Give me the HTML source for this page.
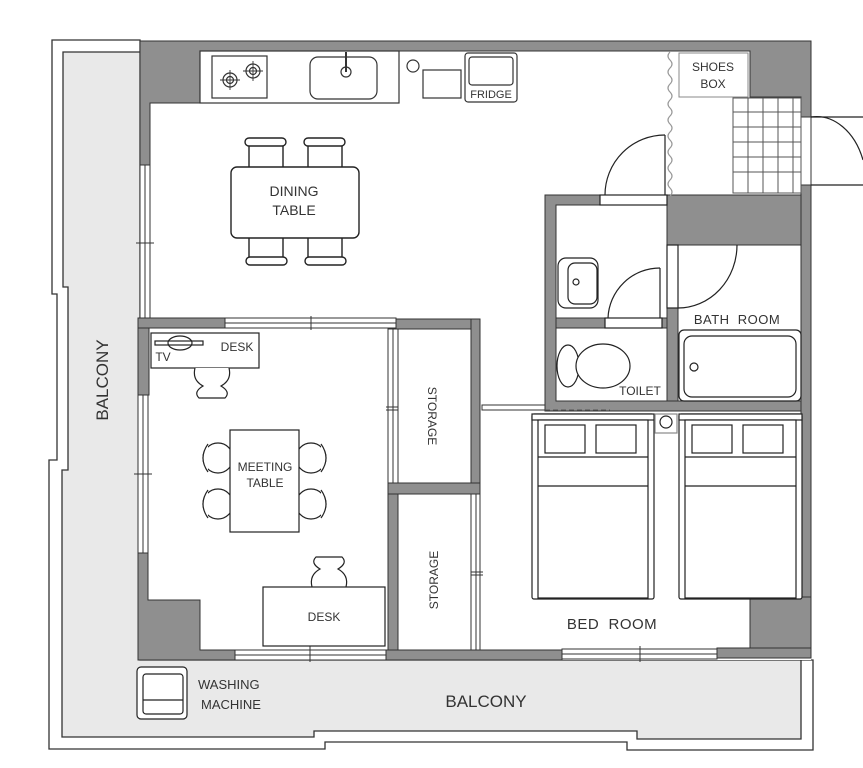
<!DOCTYPE html>
<html><head><meta charset="utf-8"><style>
html,body{margin:0;padding:0;background:#fff;}
svg{display:block}
text{font-family:"Liberation Sans",sans-serif;fill:#333;}
</style></head><body>
<svg width="863" height="768" viewBox="0 0 863 768" xmlns="http://www.w3.org/2000/svg">
<!-- balcony -->
<path d="M52,40 H140 V660 H813 V750 H627 V742 H325 V749 H49 V460 H57 V294 H52 Z" fill="#fff" stroke="#333" stroke-width="1.3"/>
<path d="M63,52 H140 V660 H801 V739 H637 V731 H314 V737 H62 V470 H68 V287 H63 Z" fill="#e9e9e9" stroke="#333" stroke-width="1.3"/>
<!-- building interior -->
<rect x="140" y="41" width="671" height="619" fill="#fff"/>
<g fill="#8f8f8f" stroke="#333" stroke-width="1">
<path d="M140,41 H811 V117 H801 V97 H750 V51 H200 V103 H150 V165 H140 Z"/>
<rect x="801" y="185" width="10" height="415"/>
<path d="M750,597 H811 V658 H750 Z"/>
<rect x="138" y="318" width="87" height="10"/>
<rect x="138" y="328" width="11" height="67"/>
<path d="M138,553 H148 V600 H200 V650 H235 V660 H138 Z"/>
<rect x="396" y="319" width="84" height="10"/>
<rect x="471" y="319" width="9" height="175"/>
<rect x="388" y="483" width="92" height="11"/>
<rect x="388" y="494" width="10" height="166"/>
<rect x="386" y="650" width="176" height="10"/>
<rect x="717" y="648" width="94" height="10"/>
<path d="M545,195 H600 V205 H556 V401 H801 V411 H545 Z"/>
<rect x="667" y="195" width="134" height="50"/>
<rect x="556" y="318" width="49" height="10"/>
<rect x="662" y="318" width="16" height="10"/>
<rect x="667" y="308" width="11" height="93"/>
</g>
<!-- windows -->
<g fill="#fff" stroke="#333" stroke-width="1">
<rect x="140" y="165" width="10" height="153"/>
<line x1="145" y1="165" x2="145" y2="318"/>
<line x1="136" y1="243" x2="154" y2="243"/>
<rect x="138" y="395" width="10" height="158"/>
<line x1="143" y1="395" x2="143" y2="553"/>
<line x1="134" y1="474" x2="152" y2="474"/>
<rect x="225" y="318" width="171" height="10"/>
<line x1="225" y1="323" x2="396" y2="323"/>
<line x1="311" y1="316" x2="311" y2="330"/>
<rect x="235" y="650" width="151" height="10"/>
<line x1="235" y1="655" x2="386" y2="655"/>
<line x1="310" y1="646" x2="310" y2="662"/>
<rect x="562" y="649" width="155" height="10"/>
<line x1="562" y1="654" x2="717" y2="654"/>
<line x1="640" y1="646" x2="640" y2="662"/>
<rect x="801" y="117" width="10" height="68"/>
<rect x="388" y="329" width="10" height="154"/>
<line x1="393" y1="329" x2="393" y2="483"/>
<line x1="386" y1="407" x2="400" y2="407"/><line x1="386" y1="410" x2="400" y2="410"/>
<rect x="471" y="494" width="9" height="156"/>
<line x1="476" y1="494" x2="476" y2="650"/>
<line x1="469" y1="572" x2="483" y2="572"/><line x1="469" y1="575" x2="483" y2="575"/>
<rect x="398" y="329" width="73" height="154"/>
<rect x="398" y="494" width="73" height="156"/>
<rect x="482" y="405" width="63" height="5"/>
</g>
<line x1="545" y1="410" x2="610" y2="410" stroke="#555" stroke-dasharray="5,3"/>
<!-- door openings -->
<g fill="none" stroke="#222" stroke-width="1.2">
<rect x="600" y="195" width="67" height="10" fill="#fff"/>
<line x1="665" y1="135" x2="665" y2="195"/>
<path d="M665,135 A60,60 0 0 0 605,195"/>
<rect x="605" y="318" width="57" height="10" fill="#fff"/>
<line x1="660" y1="268" x2="660" y2="318"/>
<path d="M660,268 A52,52 0 0 0 608,318"/>
<rect x="667" y="245" width="11" height="63" fill="#fff"/>
<path d="M737,245 A59,63 0 0 1 678,308"/>
<line x1="811" y1="117" x2="863" y2="117"/>
<path d="M811,117 A50,68 0 0 1 863,160"/>
<line x1="811" y1="185" x2="863" y2="185"/>
</g>
<path d="M670,52 q-4,4 0,8 q4,4 0,8 q-4,4 0,8 q4,4 0,8 q-4,4 0,8 q4,4 0,8 q-4,4 0,8 q4,4 0,8 q-4,4 0,8 q4,4 0,8 q-4,4 0,8 q4,4 0,8 q-4,4 0,8 q4,4 0,8 q-4,4 0,8 q4,4 0,8 q-4,4 0,8 q4,4 0,8" fill="none" stroke="#999" stroke-width="1.2"/>
<rect x="679" y="53" width="69" height="44" fill="#fff" stroke="#888"/>
<text x="713" y="71" font-size="12" text-anchor="middle">SHOES</text>
<text x="713" y="88" font-size="12" text-anchor="middle">BOX</text>
<g stroke="#555" fill="#fff" stroke-width="1">
<rect x="733" y="98" width="68" height="95"/>
<path d="M748,98V193M763,98V193M778,98V193M793,98V193M733,112H801M733,127H801M733,142H801M733,157H801M733,172H801"/>
</g>
<g fill="#fff" stroke="#333" stroke-width="1.2">
<rect x="200" y="51" width="199" height="52"/>
<rect x="212" y="56" width="55" height="42"/>
<circle cx="230" cy="80" r="7"/><circle cx="230" cy="80" r="3.5"/>
<circle cx="253" cy="71" r="7"/><circle cx="253" cy="71" r="3.5"/>
<path d="M220,80H240M230,70V90M243,71H263M253,61V81" stroke-width="0.9"/>
<rect x="310" y="57" width="67" height="42" rx="8"/>
<circle cx="346" cy="72" r="5"/>
<line x1="346" y1="52" x2="346" y2="72" stroke-width="2"/>
<circle cx="413" cy="66" r="6"/>
<rect x="423" y="70" width="38" height="28"/>
<rect x="465" y="53" width="52" height="49" rx="3"/>
<rect x="469" y="57" width="44" height="28" rx="3"/>
</g>
<text x="491" y="98" font-size="11" text-anchor="middle">FRIDGE</text>
<g fill="#fff" stroke="#222" stroke-width="1.4">
<rect x="249" y="144" width="34" height="24"/>
<rect x="245" y="138" width="41" height="8" rx="4"/>
<rect x="308" y="144" width="34" height="24"/>
<rect x="304" y="138" width="41" height="8" rx="4"/>
<rect x="249" y="237" width="34" height="22"/>
<rect x="246" y="257" width="41" height="8" rx="4"/>
<rect x="308" y="237" width="34" height="22"/>
<rect x="305" y="257" width="41" height="8" rx="4"/>
<rect x="231" y="167" width="128" height="71" rx="6"/>
</g>
<text x="294" y="196" font-size="14" text-anchor="middle">DINING</text>
<text x="294" y="215" font-size="14" text-anchor="middle">TABLE</text>
<g fill="#fff" stroke="#222" stroke-width="1.2">
<rect x="151" y="333" width="108" height="35"/>
<rect x="155" y="341" width="48" height="4"/>
<ellipse cx="180" cy="343" rx="12" ry="7" fill="none"/>
<path d="M195,368 q-3,12 8,18 q-10,6 -4,12 h26 q6,-6 -4,-12 q11,-6 8,-18"/>
<path d="M312,587 q-3,-12 8,-18 q-10,-6 -4,-12 h26 q6,6 -4,12 q11,6 8,18"/>
<circle cx="218" cy="458" r="15"/><circle cx="218" cy="504" r="15"/>
<circle cx="311" cy="458" r="15"/><circle cx="311" cy="504" r="15"/>
<path d="M208,444 q-10,14 0,28 M208,490 q-10,14 0,28 M321,444 q10,14 0,28 M321,490 q10,14 0,28"/>
<rect x="230" y="430" width="69" height="102"/>
<rect x="263" y="587" width="122" height="59"/>
</g>
<text x="237" y="351" font-size="12" text-anchor="middle">DESK</text>
<text x="163" y="361" font-size="12" text-anchor="middle">TV</text>
<text x="265" y="471" font-size="12" text-anchor="middle">MEETING</text>
<text x="265" y="487" font-size="12" text-anchor="middle">TABLE</text>
<text x="324" y="621" font-size="12" text-anchor="middle">DESK</text>
<text x="0" y="0" font-size="12" text-anchor="middle" transform="translate(428,416) rotate(90)">STORAGE</text>
<text x="0" y="0" font-size="12" text-anchor="middle" transform="translate(438,580) rotate(-90)">STORAGE</text>
<g fill="#fff" stroke="#222" stroke-width="1.2">
<rect x="558" y="258" width="40" height="50" rx="8"/>
<rect x="568" y="263" width="29" height="41" rx="7"/>
<circle cx="576" cy="282" r="3"/>
<ellipse cx="568" cy="366" rx="11" ry="21"/>
<ellipse cx="603" cy="366" rx="27" ry="22"/>
<rect x="679" y="330" width="122" height="71" rx="5"/>
<rect x="684" y="336" width="112" height="61" rx="8"/>
<circle cx="694" cy="367" r="4"/>
</g>
<text x="640" y="395" font-size="12" text-anchor="middle">TOILET</text>
<text x="737" y="324" font-size="13" text-anchor="middle" letter-spacing="0.5">BATH&#160;&#160;ROOM</text>
<g fill="#fff" stroke="#222" stroke-width="1.2">
<rect x="532" y="414" width="122" height="185" rx="2"/>
<rect x="532" y="414" width="122" height="6"/>
<rect x="538" y="420" width="110" height="178"/>
<line x1="538" y1="457" x2="648" y2="457"/>
<line x1="538" y1="486" x2="648" y2="486"/>
<rect x="545" y="425" width="40" height="28"/>
<rect x="596" y="425" width="40" height="28"/>
<rect x="679" y="414" width="123" height="185" rx="2"/>
<rect x="679" y="414" width="123" height="6"/>
<rect x="685" y="420" width="111" height="178"/>
<line x1="685" y1="457" x2="796" y2="457"/>
<line x1="685" y1="486" x2="796" y2="486"/>
<rect x="692" y="425" width="40" height="28"/>
<rect x="743" y="425" width="40" height="28"/>
<rect x="655" y="414" width="22" height="19" stroke="#888"/>
<circle cx="666" cy="422" r="6"/>
</g>
<text x="612" y="629" font-size="15" text-anchor="middle" letter-spacing="0.5">BED&#160;&#160;ROOM</text>
<g fill="#fff" stroke="#222" stroke-width="1.2">
<rect x="137" y="667" width="50" height="52" rx="4"/>
<rect x="143" y="674" width="40" height="40" rx="3"/>
<line x1="143" y1="700" x2="183" y2="700"/>
</g>
<text x="198" y="689" font-size="13">WASHING</text>
<text x="201" y="709" font-size="13">MACHINE</text>
<text x="486" y="707" font-size="17" text-anchor="middle">BALCONY</text>
<text x="0" y="0" font-size="17" text-anchor="middle" transform="translate(108,380) rotate(-90)">BALCONY</text>
</svg>
</body></html>
